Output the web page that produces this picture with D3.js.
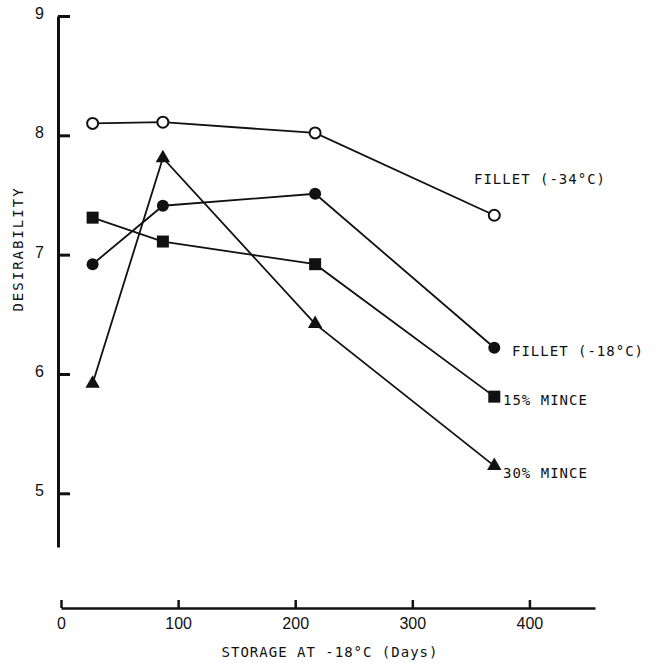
<!DOCTYPE html>
<meta charset="utf-8">
<head>
    <script src="https://d3js.org/d3.v7.min.js"></script>
    <style>
        body { margin: 0; background: #fff; }
        .lbl { font-family: "DejaVu Sans Mono", monospace; font-size: 14px; letter-spacing: 1px; fill: #111; }
        .tick text { font-family: "Liberation Sans", sans-serif; font-size: 16px; fill: #111; }
    </style>
</head>
<body>
<div id="chartContainer"></div>
</body>
<script type="text/javascript">

    var days = [27, 87, 217, 370];
    var fillet34 = [8.1, 8.11, 8.02, 7.33];
    var fillet18 = [6.92, 7.41, 7.51, 6.22];
    var mince15 = [7.31, 7.11, 6.92, 5.81];
    var mince30 = [5.92, 7.81, 6.42, 5.23];
    var xTicks = [0, 100, 200, 300, 400];
    var yTicks = [5, 6, 7, 8, 9];

    var series = [
        {name: "FILLET (-34°C)", values: fillet34, marker: "openCircle", lx: 474, ly: 184},
        {name: "FILLET (-18°C)", values: fillet18, marker: "circle", lx: 512, ly: 356},
        {name: "15% MINCE", values: mince15, marker: "square", lx: 503, ly: 405},
        {name: "30% MINCE", values: mince30, marker: "triangle", lx: 503, ly: 478}
    ];

    var svg = d3.select("#chartContainer").append("svg")
        .attr("width", 656).attr("height", 663);

    // x starts at 61px, y 9 at 16px, 5 at 493px
    var x = d3.scaleLinear().domain([0, 456]).range([61, 595]);
    var y = d3.scaleLinear().domain([4.55, 9]).range([547, 16]);

    // y axis: ticks pointing inward (to the right)
    var yAxis = d3.axisRight(y).tickValues(yTicks).tickFormat(d3.format("d"))
        .tickSize(12).tickSizeOuter(0);
    var gy = svg.append("g").attr("transform", "translate(58,0)").call(yAxis);
    gy.select(".domain").attr("stroke-width", 3).attr("stroke", "#111");
    gy.selectAll(".tick line").attr("stroke-width", 3).attr("stroke", "#111");
    gy.selectAll(".tick text").attr("x", -14).attr("text-anchor", "end").attr("dy", "0.15em");

    // x axis: separated, ticks pointing up
    var xAxis = d3.axisTop(x).tickValues(xTicks).tickSize(8).tickSizeOuter(0);
    var gx = svg.append("g").attr("transform", "translate(0,608)").call(xAxis);
    gx.select(".domain").attr("stroke-width", 2.5).attr("stroke", "#111");
    gx.selectAll(".tick line").attr("stroke-width", 2.5).attr("stroke", "#111");
    gx.selectAll(".tick text").attr("y", 21).attr("dy", "0");

    svg.append("text").attr("class", "lbl")
        .attr("x", 330).attr("y", 657).attr("text-anchor", "middle")
        .text("STORAGE AT -18°C (Days)");

    svg.append("text").attr("class", "lbl")
        .attr("transform", "translate(23,249) rotate(-90)")
        .attr("text-anchor", "middle")
        .style("letter-spacing", "2px")
        .text("DESIRABILITY");

    var line = d3.line()
        .x(function (d, i) { return x(days[i]); })
        .y(function (d) { return y(d); });

    series.forEach(function (s) {
        svg.append("path")
            .attr("d", line(s.values))
            .attr("fill", "none")
            .attr("stroke", "#111")
            .attr("stroke-width", 1.8);
    });

    series.forEach(function (s) {
        var g = svg.append("g");
        s.values.forEach(function (v, i) {
            var cx = x(days[i]), cy = y(v);
            if (s.marker === "openCircle") {
                g.append("circle").attr("cx", cx).attr("cy", cy).attr("r", 5.5)
                    .attr("fill", "#fff").attr("stroke", "#111").attr("stroke-width", 2);
            } else if (s.marker === "circle") {
                g.append("circle").attr("cx", cx).attr("cy", cy).attr("r", 6).attr("fill", "#111");
            } else if (s.marker === "square") {
                g.append("rect").attr("x", cx - 6).attr("y", cy - 6).attr("width", 12).attr("height", 12).attr("fill", "#111");
            } else {
                g.append("path").attr("d", d3.symbol().type(d3.symbolTriangle).size(90)())
                    .attr("transform", "translate(" + cx + "," + cy + ")").attr("fill", "#111");
            }
        });
        svg.append("text").attr("class", "lbl")
            .attr("x", s.lx).attr("y", s.ly).text(s.name);
    });

</script>
</html>
